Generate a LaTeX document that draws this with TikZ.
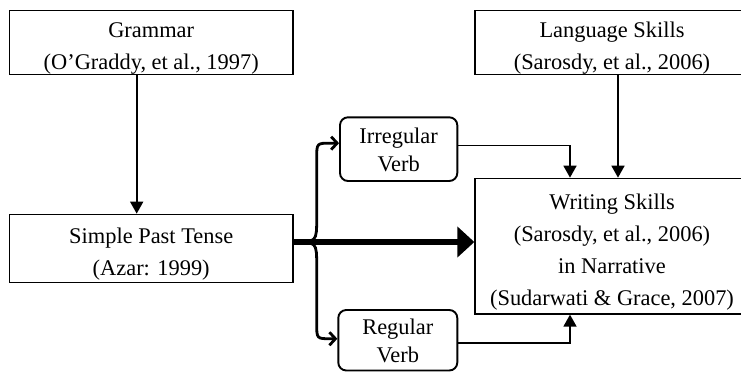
\documentclass[tikz,border=0pt]{standalone}
\usepackage{fontspec}
\setmainfont{Liberation Serif}
\usetikzlibrary{arrows.meta,calc}
\newcommand{\Lb}{\rule[-5pt]{0pt}{32pt}}
\newcommand{\Ls}{\rule[-5.5pt]{0pt}{28pt}}
\begin{document}
\begin{tikzpicture}[x=1pt,y=-1pt,
 box/.style={draw, line width=1.3pt, inner sep=0pt, align=center, font=\fontsize{22.4}{32}\selectfont},
 rbox/.style={draw, line width=1.9pt, rounded corners=8pt, inner sep=0pt, align=center, font=\fontsize{22.4}{28}\selectfont},
 conn/.style={line width=1.7pt, -{Triangle[length=12pt,width=13pt]}},
 branch/.style={line width=2.8pt, -{Straight Barb[length=6pt,width=13pt]}},
 bigarrow/.style={line width=5.5pt, -{Triangle[length=17pt,width=30pt]}}
]
\useasboundingbox (0,0) rectangle (741,372);
\clip (0,0) rectangle (741,372);
\node[box, minimum width=283.7pt, minimum height=62.5pt] (gr) at (151.2,42.2) {\Lb Grammar\\\Lb (O’Graddy, et al., 1997)};
\node[box, minimum width=274pt, minimum height=62.5pt] (la) at (612,42.2) {\Lb Language Skills\\\Lb (Sarosdy, et al., 2006)};
\node[box, minimum width=283.7pt, minimum height=68pt] (sp) at (151.2,248.3) {\Lb Simple Past Tense\\\Lb (Azar: 1999)};
\node[box, minimum width=274pt, minimum height=135.7pt] (wr) at (612,246.15) {\Lb Writing Skills\\\Lb (Sarosdy, et al., 2006)\\\Lb in Narrative\\\Lb (Sudarwati \& Grace, 2007)};
\node[rbox, minimum width=117.3pt, minimum height=63.7pt] (ir) at (398.65,149.15) {\Ls Irregular\\\Ls Verb};
\node[rbox, minimum width=119pt, minimum height=60.5pt] (rg) at (397.8,340.25) {\Ls Regular\\\Ls Verb};
\draw[conn] ([xshift=-14.5pt]gr.south) -- ([xshift=-14.5pt]sp.north);
\draw[conn] ([xshift=6pt]la.south) -- ([xshift=6pt]wr.north);
\draw[conn] ([yshift=3.6pt]ir.east) -| ([xshift=-42pt]wr.north);
\draw[conn] ([yshift=-3pt]rg.east) -| ([xshift=-42pt]wr.south);
\coordinate (j) at ([yshift=6.3pt]sp.east);
\coordinate (iw) at ([yshift=6pt]ir.west);
\coordinate (rw) at ([yshift=1.5pt]rg.west);
\draw[bigarrow] (j) -- (j -| wr.west);
\draw[branch] (j) .. controls ($(j)+(23,0)$) .. ($(j)+(23,-24)$) -- ($(j |- iw)+(23,15)$) .. controls ($(j |- iw)+(23,0)$) .. ($(j |- iw)+(37,0)$) -- (iw);
\draw[branch] (j) .. controls ($(j)+(23,0)$) .. ($(j)+(23,24)$) -- ($(j |- rw)+(23,-15)$) .. controls ($(j |- rw)+(23,0)$) .. ($(j |- rw)+(37,0)$) -- (rw);
\end{tikzpicture}
\end{document}
